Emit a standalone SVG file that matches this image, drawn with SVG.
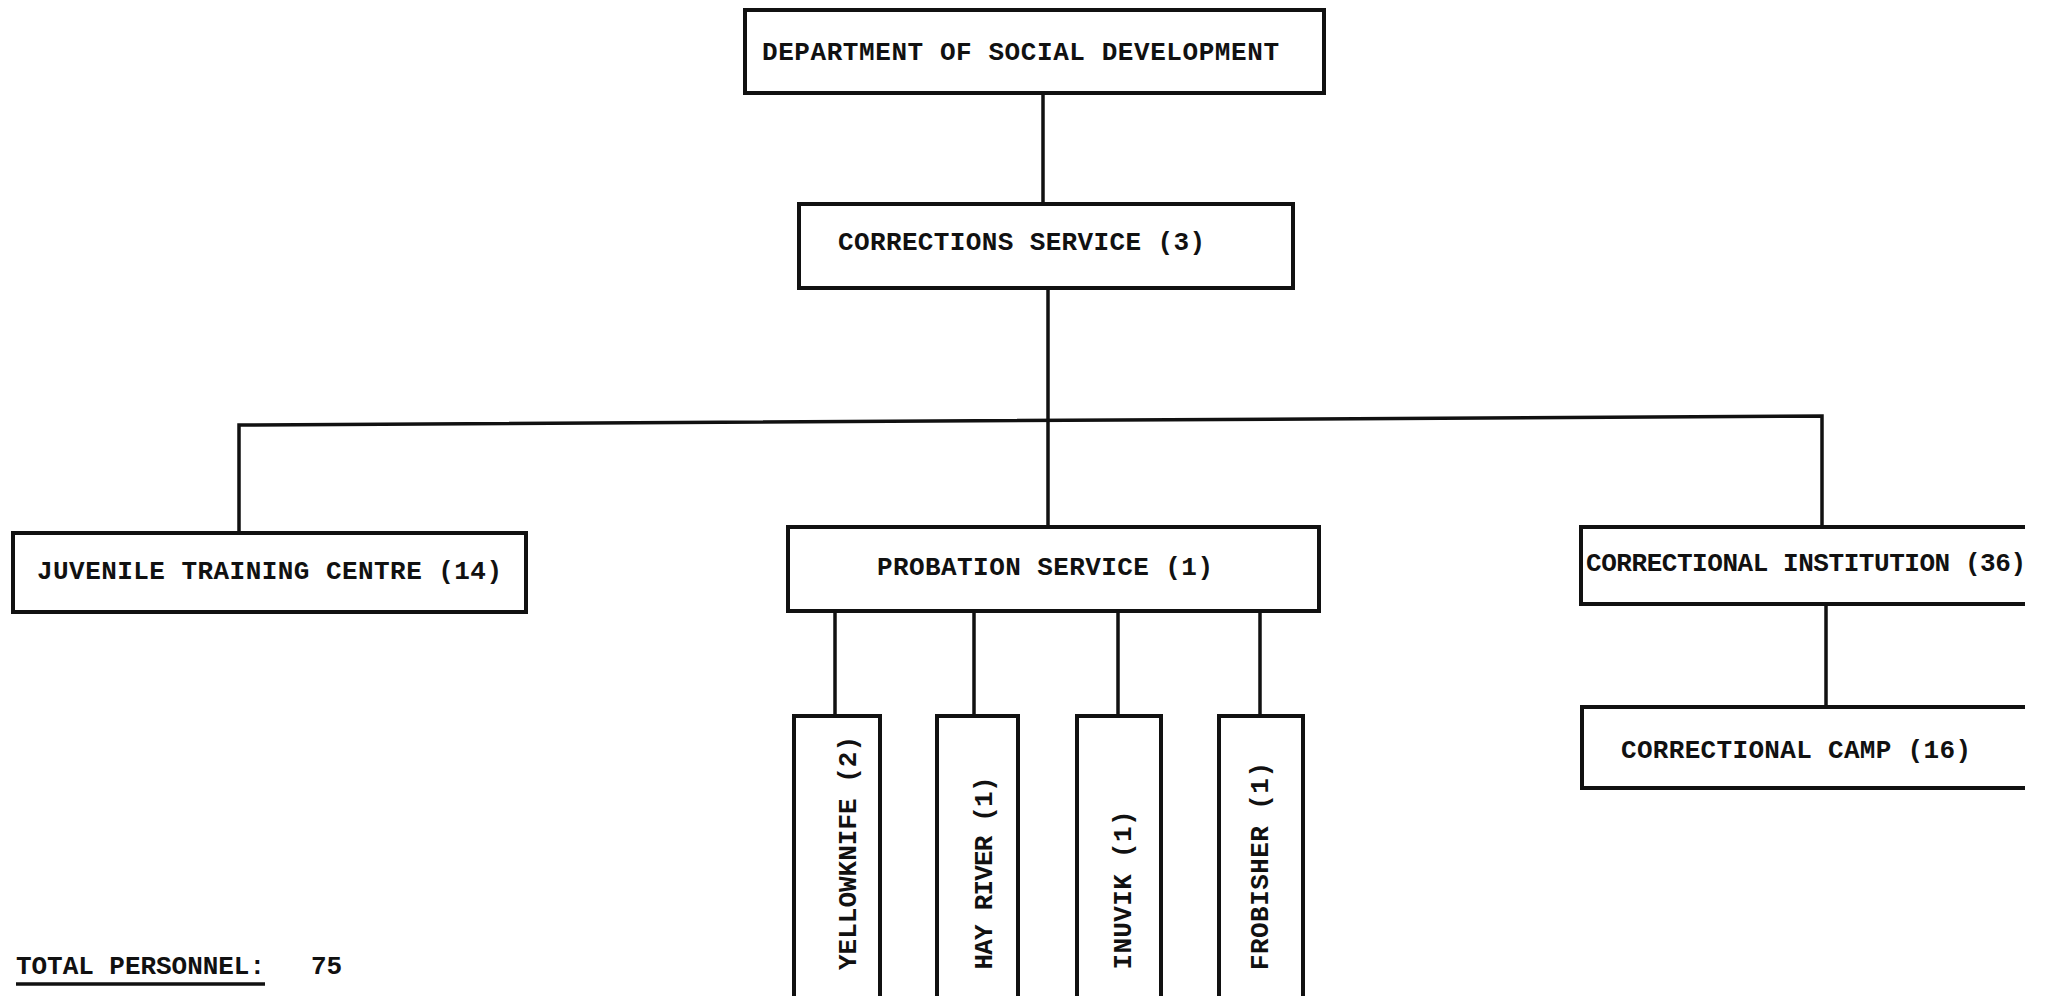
<svg xmlns="http://www.w3.org/2000/svg" width="2050" height="996" viewBox="0 0 2050 996">
<style>
.box{fill:none;stroke:#111;stroke-width:4;stroke-linejoin:miter}
.ln{fill:none;stroke:#111;stroke-width:3.5}
text{font-family:"Liberation Mono","Courier New",monospace;font-weight:bold;font-size:26px;fill:#111}
</style>
<rect width="2050" height="996" fill="#fff"/>
<g id="connectors">
<line class="ln" x1="1043" y1="93" x2="1043" y2="204"/>
<line class="ln" x1="1048" y1="288" x2="1048" y2="527"/>
<polyline class="ln" points="239,533 239,425 1822,416 1822,527"/>
<line class="ln" x1="1826" y1="604" x2="1826" y2="707"/>
<line class="ln" x1="835" y1="611" x2="835" y2="716"/>
<line class="ln" x1="974" y1="611" x2="974" y2="716"/>
<line class="ln" x1="1118" y1="611" x2="1118" y2="716"/>
<line class="ln" x1="1260" y1="611" x2="1260" y2="716"/>
</g>
<g id="dept">
<rect class="box" x="745" y="10" width="579" height="83"/>
<text x="762" y="60" textLength="517" lengthAdjust="spacing">DEPARTMENT OF  SOCIAL DEVELOPMENT</text>
</g>
<g id="corrections">
<rect class="box" x="799" y="204" width="494" height="84"/>
<text x="838" y="250" textLength="367" lengthAdjust="spacing">CORRECTIONS SERVICE (3)</text>
</g>
<g id="juvenile">
<rect class="box" x="13" y="533" width="513" height="79"/>
<text x="37" y="579" textLength="465" lengthAdjust="spacing">JUVENILE TRAINING CENTRE  (14)</text>
</g>
<g id="probation">
<rect class="box" x="788" y="527" width="531" height="84"/>
<text x="877" y="575" textLength="336" lengthAdjust="spacing">PROBATION SERVICE (1)</text>
</g>
<g id="institution">
<path class="box" d="M2025,527 H1581 V604 H2025"/>
<text x="1586" y="571" textLength="440" lengthAdjust="spacing">CORRECTIONAL INSTITUTION (36)</text>
</g>
<g id="camp">
<path class="box" d="M2025,707 H1582 V788 H2025"/>
<text x="1621" y="758" textLength="350" lengthAdjust="spacing">CORRECTIONAL CAMP (16)</text>
</g>
<g id="yellowknife">
<path class="box" d="M794,1000 V716 H880 V1000"/>
<text transform="translate(856,853) rotate(-90)" text-anchor="middle" textLength="234" lengthAdjust="spacing">YELLOWKNIFE (2)</text>
</g>
<g id="hayriver">
<path class="box" d="M937,1000 V716 H1018 V1000"/>
<text transform="translate(992,873) rotate(-90)" text-anchor="middle" textLength="193" lengthAdjust="spacing">HAY RIVER (1)</text>
</g>
<g id="inuvik">
<path class="box" d="M1077,1000 V716 H1161 V1000"/>
<text transform="translate(1131,890) rotate(-90)" text-anchor="middle" textLength="159" lengthAdjust="spacing">INUVIK (1)</text>
</g>
<g id="frobisher">
<path class="box" d="M1219,1000 V716 H1303 V1000"/>
<text transform="translate(1268,866) rotate(-90)" text-anchor="middle" textLength="208" lengthAdjust="spacing">FROBISHER (1)</text>
</g>
<g id="total">
<text x="16" y="974" textLength="249" lengthAdjust="spacing">TOTAL PERSONNEL:</text>
<line class="ln" x1="16" y1="984" x2="265" y2="984" stroke-width="3"/>
<text x="311" y="974">75</text>
</g>
</svg>
